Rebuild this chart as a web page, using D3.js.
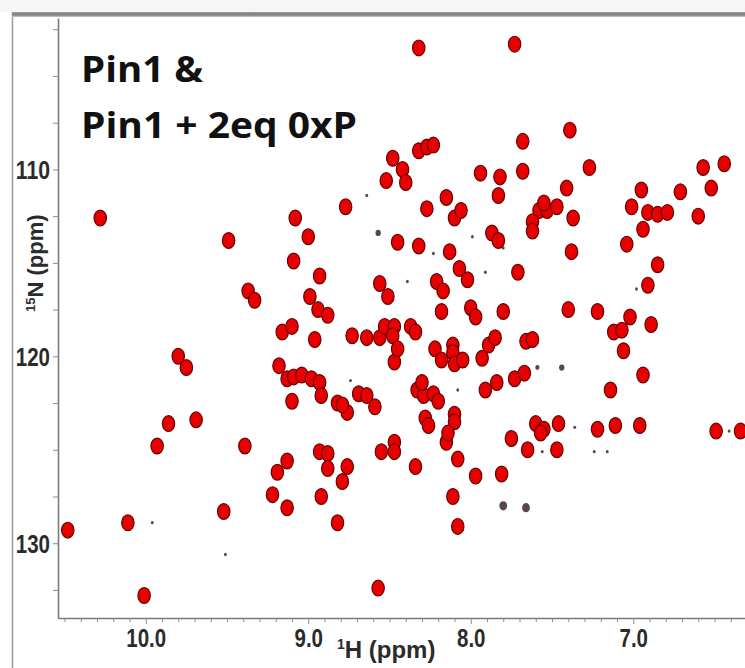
<!DOCTYPE html>
<html><head><meta charset="utf-8">
<script src="https://cdn.jsdelivr.net/npm/d3@7"></script>
<style>
body{margin:0;background:#fff;}
svg{display:block;}
</style>
</head><body>
<svg id="chart" width="745" height="668"></svg>
<script>
// ---- data: 1H / 15N chemical shifts (ppm) of the red spectrum peaks ----
const redH = [8.32,7.73,10.28,9.49,9.37,9.33,9.08,9.09,8.32,8.27,8.23,8.48,8.42,8.40,8.52,7.94,7.82,7.83,7.68,7.68,
8.77,8.27,8.15,8.10,8.06,9.00,8.93,8.99,8.94,8.88,8.45,8.32,8.13,8.07,8.02,7.87,7.83,7.71,8.56,8.51,
8.21,8.17,8.18,8.00,7.97,7.80,7.39,7.27,7.41,7.58,7.53,7.47,7.62,7.62,7.55,7.37,7.38,7.40,7.22,7.02,
6.89,6.95,7.01,6.91,6.85,6.79,6.94,7.04,6.85,6.91,6.71,6.57,6.44,6.52,6.60,9.80,9.75,9.86,9.93,9.69,
9.39,9.19,9.13,9.22,9.13,9.52,10.11,10.48,10.01,9.16,9.10,9.18,9.13,9.10,8.96,8.73,8.64,8.56,8.53,8.47,
8.37,8.34,8.48,8.47,8.45,8.22,8.11,8.11,8.18,8.10,8.05,7.93,7.89,7.85,7.91,7.84,7.73,7.67,9.09,9.04,
8.98,8.93,8.92,8.82,8.76,8.79,8.69,8.64,8.59,8.33,8.29,8.23,8.20,8.30,8.28,8.26,8.10,8.10,8.15,8.08,
8.47,8.47,8.55,8.34,8.93,8.88,8.88,8.76,8.79,8.92,8.82,8.11,8.08,7.97,7.81,7.75,8.57,7.66,7.62,7.12,
7.07,7.06,6.94,7.14,7.60,7.55,7.46,7.57,7.22,7.11,6.96,6.49,6.34,7.65,7.47,8.14];
const redN = [103.5,103.3,112.6,113.8,116.5,117.0,112.6,114.9,109.0,108.8,108.7,109.4,110.0,110.7,110.6,110.2,110.4,111.4,108.5,110.1,
112.0,112.1,111.5,112.6,112.2,113.6,115.7,116.8,117.5,117.8,113.9,114.1,114.4,115.3,115.9,113.4,113.8,115.5,116.1,116.8,
116.0,116.5,117.6,117.4,117.9,117.6,107.9,109.9,111.0,112.2,112.2,112.0,112.8,113.3,111.8,112.6,114.4,117.5,117.6,117.9,
118.3,111.1,112.0,112.3,112.4,112.3,113.2,114.0,115.1,116.2,111.2,109.9,109.7,111.0,112.5,120.0,120.6,123.6,124.8,123.4,
124.8,126.2,125.6,127.4,128.1,128.3,128.9,129.3,132.8,118.7,118.4,120.5,121.2,122.4,119.1,118.9,119.0,119.0,118.4,118.4,
118.4,118.7,118.9,120.3,119.6,119.6,119.4,119.8,120.2,120.4,120.2,120.1,119.4,119.0,121.8,121.4,121.2,120.9,121.1,121.0,
121.2,121.4,122.1,122.5,123.0,122.6,122.0,122.1,122.7,121.8,122.1,122.0,122.4,121.4,123.3,123.7,123.1,123.5,124.6,125.5,
124.6,125.1,125.1,125.9,125.1,125.2,126.0,125.9,126.7,127.5,128.9,127.5,129.1,126.4,126.3,124.4,132.4,119.2,119.1,118.7,
118.6,119.7,121.0,121.8,123.6,123.9,123.6,124.1,123.9,123.7,123.7,124.0,124.0,125.0,125.0,124.1];

// ---- data: the other (dark) spectrum, only visible where not covered ----
const darkH = [8.64,8.57,7.99,8.23,7.91,8.39,7.80,6.98,9.96,9.51,7.80,7.66,7.59,7.44,7.36,7.56,7.24,7.16,6.41,8.74,8.08];
const darkN = [111.4,113.4,113.6,114.5,115.5,116.0,114.2,116.4,128.9,130.6,128.0,128.1,120.6,120.6,123.8,125.1,125.1,125.1,124.0,121.3,121.8];
const darkIntensity = [1,2,1,1,1,1,1,1,1,1,3,3,1.5,2,1,1,1,1,1,1,1];

// ---- axes ----
const xDomain = [10.54, 6.22];
const yDomain = [101.9, 134.0];
const xTickValues = d3.range(63, 106).map(v => v / 10);
const xTickLabels = ["10.0", "9.0", "8.0", "7.0"];
const yTickValues = d3.range(41, 54).map(v => v * 2.5);
const yTickLabels = ["110", "120", "130"];
const titleLines = ["Pin1 &", "Pin1 + 2eq 0xP"];

const svg = d3.select("#chart");
const L = 58, T = 18, R = 760, B = 618;

const x = d3.scaleLinear().domain(xDomain).range([L, R]);
const y = d3.scaleLinear().domain(yDomain).range([T, B]);
const rDark = d3.scaleLinear().domain([1, 3]).range([1.7, 4.6]);

// outer window frame
svg.append("rect").attr("x", 0).attr("y", 0).attr("width", 745).attr("height", 12).attr("fill", "#f6f6f6");
const defs = svg.append("defs");
const grad = defs.append("linearGradient").attr("id", "topg").attr("x1", 0).attr("x2", 0).attr("y1", 0).attr("y2", 1);
grad.append("stop").attr("offset", "0%").attr("stop-color", "#9a9a9a");
grad.append("stop").attr("offset", "60%").attr("stop-color", "#7d7d7d");
grad.append("stop").attr("offset", "100%").attr("stop-color", "#d0d0d0");
svg.append("line").attr("x1", 12.5).attr("x2", 12.5).attr("y1", 12).attr("y2", 668)
  .attr("stroke", "#9c9c9c").attr("stroke-width", 1.5);
svg.append("rect").attr("x", 12).attr("y", 12).attr("width", 733).attr("height", 5).attr("fill", "url(#topg)");

defs.append("clipPath").attr("id", "plotclip").append("rect")
  .attr("x", L).attr("y", T).attr("width", R - L).attr("height", B - T);

// peaks
const pg = svg.append("g").attr("clip-path", "url(#plotclip)");
pg.selectAll("ellipse.red").data(redH.map((h, i) => ({h, n: redN[i]}))).join("ellipse")
  .attr("class", "red")
  .attr("cx", d => x(d.h)).attr("cy", d => y(d.n))
  .attr("rx", 6.2).attr("ry", 7.9)
  .attr("fill", "#e60000").attr("stroke", "#6a0000").attr("stroke-width", 1.2);
pg.selectAll("ellipse.dark").data(darkH.map((h, i) => ({h, n: darkN[i], v: darkIntensity[i]}))).join("ellipse")
  .attr("class", "dark")
  .attr("cx", d => x(d.h)).attr("cy", d => y(d.n))
  .attr("rx", d => rDark(d.v) * 0.85).attr("ry", d => rDark(d.v))
  .attr("fill", "#3b2630").attr("opacity", 0.85);

// axes
const narrowLen = (s, fs) => s.split("").reduce((a, c) => a + (c === "." ? 0.228 : 0.456), 0) * fs;
const tickFont = 25;

const xAxis = svg.append("g").attr("transform", `translate(0,${B})`)
  .call(d3.axisBottom(x).tickValues(xTickValues).tickSize(4).tickSizeOuter(0)
    .tickFormat(d => { const s = d.toFixed(1); return xTickLabels.includes(s) ? s : ""; }));
xAxis.select(".domain").attr("stroke", "#7a7a7a").attr("stroke-width", 1.6);
xAxis.selectAll(".tick line").attr("stroke", "#8a8a8a").attr("stroke-width", 1)
  .attr("y2", d => xTickLabels.includes(d.toFixed(1)) ? 6 : 4);
xAxis.selectAll(".tick text")
  .attr("y", 29).attr("dy", 0)
  .attr("fill", "#2b2b2b").attr("font-size", tickFont).attr("font-weight", "bold")
  .attr("font-family", "'Liberation Sans Narrow','Liberation Sans',sans-serif")
  .each(function() { const t = this.textContent; if (t) d3.select(this).attr("textLength", narrowLen(t, tickFont)).attr("lengthAdjust", "spacingAndGlyphs"); });

const yAxis = svg.append("g").attr("transform", `translate(${L},0)`)
  .call(d3.axisLeft(y).tickValues(yTickValues).tickSize(5).tickSizeOuter(0)
    .tickFormat(d => yTickLabels.includes(String(d)) ? String(d) : ""));
yAxis.select(".domain").attr("stroke", "#7a7a7a").attr("stroke-width", 1.6);
yAxis.selectAll(".tick line").attr("stroke", "#8a8a8a").attr("stroke-width", 1);
yAxis.selectAll(".tick text")
  .attr("x", -8).attr("dy", "0.36em")
  .attr("fill", "#2b2b2b").attr("font-size", tickFont).attr("font-weight", "bold")
  .attr("font-family", "'Liberation Sans Narrow','Liberation Sans',sans-serif")
  .each(function() { const t = this.textContent; if (t) d3.select(this).attr("textLength", narrowLen(t, tickFont)).attr("lengthAdjust", "spacingAndGlyphs"); });

// axis titles
const xt = svg.append("text").attr("x", 337).attr("y", 658)
  .attr("font-family", "'Liberation Sans',Arial,sans-serif").attr("font-weight", "bold")
  .attr("font-size", 24).attr("fill", "#2b2b2b");
xt.append("tspan").attr("font-size", 14).attr("dy", -9).text("1");
xt.append("tspan").attr("dy", 9).text("H (ppm)");

const yt = svg.append("text")
  .attr("transform", "translate(43,312) rotate(-90)")
  .attr("font-family", "'Liberation Sans',Arial,sans-serif").attr("font-weight", "bold")
  .attr("font-size", 22).attr("fill", "#2b2b2b");
yt.append("tspan").attr("font-size", 13).attr("dy", -8).text("15");
yt.append("tspan").attr("dy", 8).text("N (ppm)");

// title
const titleX = 81, titleY = [82, 138], titleW = [122, 276];
titleLines.forEach((t, i) => {
  svg.append("text").attr("x", titleX).attr("y", titleY[i])
    .attr("font-family", "'Open Sans','Noto Sans',sans-serif").attr("font-weight", "bold")
    .attr("font-size", 35).attr("fill", "#111")
    .attr("textLength", titleW[i]).attr("lengthAdjust", "spacingAndGlyphs")
    .text(t);
});
</script>
</body></html>
